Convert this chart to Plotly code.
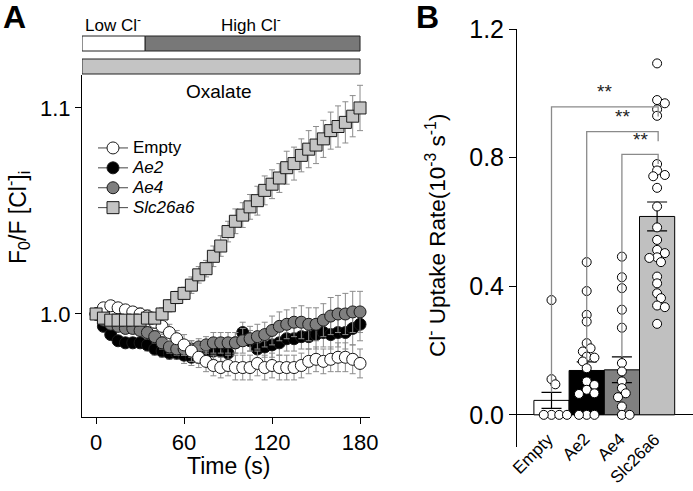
import numpy as np
import plotly.graph_objects as go

W, H = 693, 491
FONT = "Liberation Sans, Arial, Helvetica, sans-serif"

# ---------------- Panel A data ----------------
time_s = list(range(0, 181, 5))
empty_mean = [1.000, 1.003, 1.004, 1.003, 1.002, 1.001, 1.000, 0.999, 0.996, 0.994, 0.991, 0.988, 0.985,
              0.982, 0.979, 0.977, 0.975, 0.974, 0.975, 0.974, 0.974, 0.974, 0.976, 0.974, 0.975, 0.974,
              0.974, 0.974, 0.975, 0.977, 0.978, 0.977, 0.978, 0.979, 0.979, 0.978, 0.976]
empty_err = [0.002, 0.002, 0.002, 0.002, 0.002, 0.002, 0.003, 0.003, 0.003, 0.004, 0.004, 0.004, 0.005,
             0.005, 0.005, 0.005, 0.005, 0.005, 0.005, 0.006, 0.006, 0.006, 0.006, 0.006, 0.006, 0.006,
             0.006, 0.006, 0.006, 0.006, 0.006, 0.006, 0.006, 0.007, 0.007, 0.007, 0.007]
ae2_mean = [1.000, 0.994, 0.990, 0.987, 0.986, 0.986, 0.986, 0.985, 0.983, 0.982, 0.981, 0.981, 0.980,
            0.979, 0.980, 0.981, 0.982, 0.982, 0.981, 0.986, 0.991, 0.987, 0.983, 0.984, 0.985, 0.986,
            0.988, 0.988, 0.989, 0.989, 0.990, 0.991, 0.990, 0.991, 0.991, 0.993, 0.995]
ae2_err = [0.001, 0.002, 0.002, 0.002, 0.002, 0.002, 0.002, 0.003, 0.003, 0.003, 0.003, 0.003, 0.004,
           0.004, 0.004, 0.004, 0.004, 0.005, 0.005, 0.005, 0.005, 0.005, 0.005, 0.005, 0.006, 0.006,
           0.006, 0.006, 0.006, 0.006, 0.007, 0.007, 0.007, 0.007, 0.008, 0.008, 0.008]
ae4_mean = [1.000, 0.997, 0.995, 0.994, 0.993, 0.993, 0.992, 0.991, 0.989, 0.986, 0.984, 0.983, 0.983,
            0.983, 0.984, 0.985, 0.986, 0.986, 0.986, 0.986, 0.987, 0.988, 0.989, 0.990, 0.992, 0.994,
            0.995, 0.996, 0.996, 0.995, 0.995, 0.997, 0.999, 1.000, 1.000, 1.001, 1.001]
ae4_err = [0.001, 0.002, 0.002, 0.002, 0.002, 0.002, 0.002, 0.003, 0.003, 0.003, 0.003, 0.003, 0.003,
           0.004, 0.004, 0.004, 0.005, 0.005, 0.005, 0.005, 0.006, 0.006, 0.006, 0.006, 0.007, 0.007,
           0.007, 0.007, 0.008, 0.008, 0.008, 0.008, 0.009, 0.009, 0.010, 0.010, 0.010]
slc_mean = [1.000, 0.998, 0.997, 0.997, 0.997, 0.997, 0.997, 0.998, 0.998, 1.000, 1.004, 1.008, 1.010,
            1.014, 1.019, 1.022, 1.028, 1.033, 1.040, 1.045, 1.048, 1.052, 1.055, 1.060, 1.063, 1.066,
            1.071, 1.073, 1.077, 1.080, 1.082, 1.085, 1.089, 1.091, 1.093, 1.096, 1.100]
slc_err = [0.002, 0.002, 0.002, 0.002, 0.002, 0.002, 0.002, 0.002, 0.002, 0.003, 0.003, 0.003, 0.003,
           0.004, 0.004, 0.004, 0.005, 0.005, 0.005, 0.006, 0.006, 0.006, 0.007, 0.007, 0.007, 0.007,
           0.008, 0.008, 0.008, 0.009, 0.009, 0.009, 0.009, 0.010, 0.010, 0.010, 0.011]

# ---------------- Panel B data ----------------
categories = ["Empty", "Ae2", "Ae4", "Slc26a6"]
bar_means = [0.045, 0.138, 0.140, 0.617]
bar_sem = [0.025, 0.027, 0.040, 0.045]
pts_empty = [0.357, 0.111, 0.095, 0.0, 0.0, 0.0, 0.0]
pts_ae2 = [0.475, 0.385, 0.311, 0.290, 0.223, 0.207, 0.197, 0.181, 0.178, 0.166, 0.145, 0.104, 0.093,
           0.078, 0.067, 0.065, 0.0, 0.0, 0.0]
pts_ae4 = [0.492, 0.428, 0.394, 0.327, 0.271, 0.161, 0.135, 0.104, 0.083, 0.067, 0.055, 0.026, 0.0, 0.0]
pts_slc = [1.093, 0.979, 0.969, 0.950, 0.930, 0.780, 0.760, 0.746, 0.742, 0.706, 0.648, 0.583, 0.544,
           0.513, 0.503, 0.490, 0.488, 0.475, 0.430, 0.409, 0.378, 0.363, 0.340, 0.335, 0.283]
sig_pairs = [(0, 3), (1, 3), (2, 3)]
sig_heights = [0.958, 0.881, 0.810]
sig_labels = ["**", "**", "**"]


def px(x, y):
    return x / W, 1 - y / H


def swarm(vals, ypx=321.7, xpx=35.2, mind=6.0, step=0.11):
    vals = list(vals)
    order = np.argsort(-np.asarray(vals), kind="stable")
    placed, offs = [], [0.0] * len(vals)
    cands = [0.0]
    for j in range(1, 25):
        cands += [j * step, -j * step]
    for i in order:
        v = vals[i]
        for c in cands:
            if all(((c - pc) * xpx) ** 2 + ((v - pv) * ypx) ** 2 >= mind ** 2 for pc, pv in placed):
                break
        placed.append((c, v))
        offs[i] = c
    return offs


fig = go.Figure()

series = [
    ("Ae2", ae2_mean, ae2_err, "circle", "black", 2),
    ("Ae4", ae4_mean, ae4_err, "circle", "#7f7f7f", 3),
    ("Empty", empty_mean, empty_err, "circle", "white", 1),
    ("Slc26a6", slc_mean, slc_err, "square", "#c4c4c4", 4),
]
for name, m, e, sym, col, rank in series:
    fig.add_trace(go.Scatter(
        x=time_s, y=m, mode="markers", xaxis="x", yaxis="y", showlegend=False,
        marker=dict(symbol=sym, size=12, color=col, line=dict(color="#1a1a1a", width=1)),
        error_y=dict(type="data", array=e, color="#8c8c8c", thickness=1, width=3),
    ))
for name, m, e, sym, col, rank in series:
    inner = name if name == "Empty" else f"<i>{name}</i>"
    label = f'<span style="font-size:17px">{inner}</span>'
    fig.add_trace(go.Scatter(
        x=[None], y=[None], mode="lines+markers", xaxis="x", yaxis="y", name=label,
        legendrank=rank,
        line=dict(color="#444444", width=1),
        marker=dict(symbol=sym, size=12, color=col, line=dict(color="#1a1a1a", width=1)),
    ))

# Panel B
bar_colors = ["white", "black", "#808080", "#c0c0c0"]
fig.add_trace(go.Bar(
    x=list(range(len(categories))), y=bar_means, width=1.0, xaxis="x2", yaxis="y2", showlegend=False,
    marker=dict(color=bar_colors, line=dict(color="black", width=1)),
    error_y=dict(type="data", array=bar_sem, color="black", thickness=1.2, width=10),
))
for k, pts in enumerate([pts_empty, pts_ae2, pts_ae4, pts_slc]):
    offs = swarm(pts)
    fig.add_trace(go.Scatter(
        x=[k + o for o in offs], y=pts, mode="markers", xaxis="x2", yaxis="y2", showlegend=False,
        marker=dict(symbol="circle", size=9, color="white", line=dict(color="black", width=1)),
    ))

shapes = []
# significance brackets
for (a, b), h, lab in zip(sig_pairs, sig_heights, sig_labels):
    y0 = bar_means[a] + bar_sem[a]
    shapes.append(dict(type="path", xref="x2", yref="y2",
                       path=f"M {a},{y0} L {a},{h} L {b + 0.03},{h} L {b + 0.03},{h - 0.03}",
                       line=dict(color="#8a8a8a", width=1.3)))

# top condition bars in panel A
ya0, ya1 = px(0, 51)[1], px(0, 36)[1]
yo0, yo1 = px(0, 74)[1], px(0, 59)[1]
shapes += [
    dict(type="rect", xref="x", yref="paper", x0=-9.6, x1=33.5, y0=ya0, y1=ya1,
         fillcolor="white", line=dict(color="#222", width=1)),
    dict(type="rect", xref="x", yref="paper", x0=33.5, x1=180, y0=ya0, y1=ya1,
         fillcolor="#787878", line=dict(color="#222", width=1)),
    dict(type="rect", xref="x", yref="paper", x0=-9.6, x1=180, y0=yo0, y1=yo1,
         fillcolor="#c4c4c4", line=dict(color="#222", width=1)),
]

ann = []


def text(x, y, s, size, **kw):
    xx, yy = px(x, y)
    d = dict(x=xx, y=yy, xref="paper", yref="paper", text=s, showarrow=False,
             xanchor="center", yanchor="middle",
             font=dict(family=FONT, size=size, color="black"))
    d.update(kw)
    ann.append(d)


text(14, 17, "<b>A</b>", 32)
text(427, 17, "<b>B</b>", 32)
text(113, 24, "Low Cl<sup>-</sup>", 17)
text(251, 24, "High Cl<sup>-</sup>", 17)
text(218, 92, "Oxalate", 19)
text(17, 218, "F<sub>0</sub>/F [Cl<sup>-</sup>]<sub>i</sub>", 23, textangle=-90)
text(228, 466, "Time (s)", 23)
text(436, 236, "Cl<sup>-</sup> Uptake Rate(10<sup>-3</sup> s<sup>-1</sup>)", 22.5, textangle=-90)

# rotated category labels (top-right corner at each bar)
for k, cat in enumerate(categories):
    ann.append(dict(x=k, y=px(0, 427)[1], xref="x2", yref="paper", text=cat, showarrow=False,
                    xanchor="right", yanchor="top", xshift=9, textangle=-45,
                    font=dict(family=FONT, size=17, color="black")))

for (a, b), h, lab in zip(sig_pairs, sig_heights, sig_labels):
    ann.append(dict(x=(a + b + 0.03) / 2, y=h + 0.008, xref="x2", yref="y2", text=lab, showarrow=False,
                    yanchor="bottom", font=dict(family=FONT, size=19, color="#222")))

fig.update_layout(
    width=W, height=H, autosize=False, margin=dict(l=0, r=0, t=0, b=0, pad=0, autoexpand=False),
    paper_bgcolor="white", plot_bgcolor="white",
    font=dict(family=FONT, color="black"),
    showlegend=True, hovermode=False,
    legend=dict(x=px(93, 0)[0], y=px(0, 133)[1], xanchor="left", yanchor="top",
                bgcolor="rgba(0,0,0,0)", font=dict(family=FONT, size=13),
                tracegroupgap=0, itemwidth=30),
    xaxis=dict(domain=[82 / W, 370 / W], range=[-9.6, 186.8], showline=True, linecolor="black",
               linewidth=1, ticks="outside", ticklen=6, tickcolor="black", tickvals=[0, 60, 120, 180],
               showgrid=False, zeroline=False, tickfont=dict(size=22), automargin=False),
    yaxis=dict(domain=[1 - 417 / H, 1 - 75 / H], range=[0.95, 1.116], showline=True, linecolor="black",
               linewidth=1, ticks="outside", ticklen=6, tickcolor="black", tickvals=[1.0, 1.1],
               tickformat=".1f", showgrid=False, zeroline=False, tickfont=dict(size=22), automargin=False),
    xaxis2=dict(domain=[517 / W, 1.0], range=[-0.98, 4.02], anchor="y2", showline=False, ticks="",
                showticklabels=False, showgrid=False, zeroline=False, automargin=False),
    yaxis2=dict(domain=[1 - 447 / H, 1 - 29 / H], range=[-0.1, 1.2], anchor="x2", showline=True,
                linecolor="black", linewidth=1, ticks="outside", ticklen=7, tickcolor="black",
                tickvals=[0, 0.4, 0.8, 1.2], tickformat=".1f", showgrid=False, zeroline=True,
                zerolinecolor="black", zerolinewidth=1, tickfont=dict(size=25), automargin=False),
    shapes=shapes, annotations=ann,
)

fig.write_html("out.html", config={"displayModeBar": False, "staticPlot": True},
               post_script="document.body.style.margin='0px';document.body.style.overflow='hidden';")
